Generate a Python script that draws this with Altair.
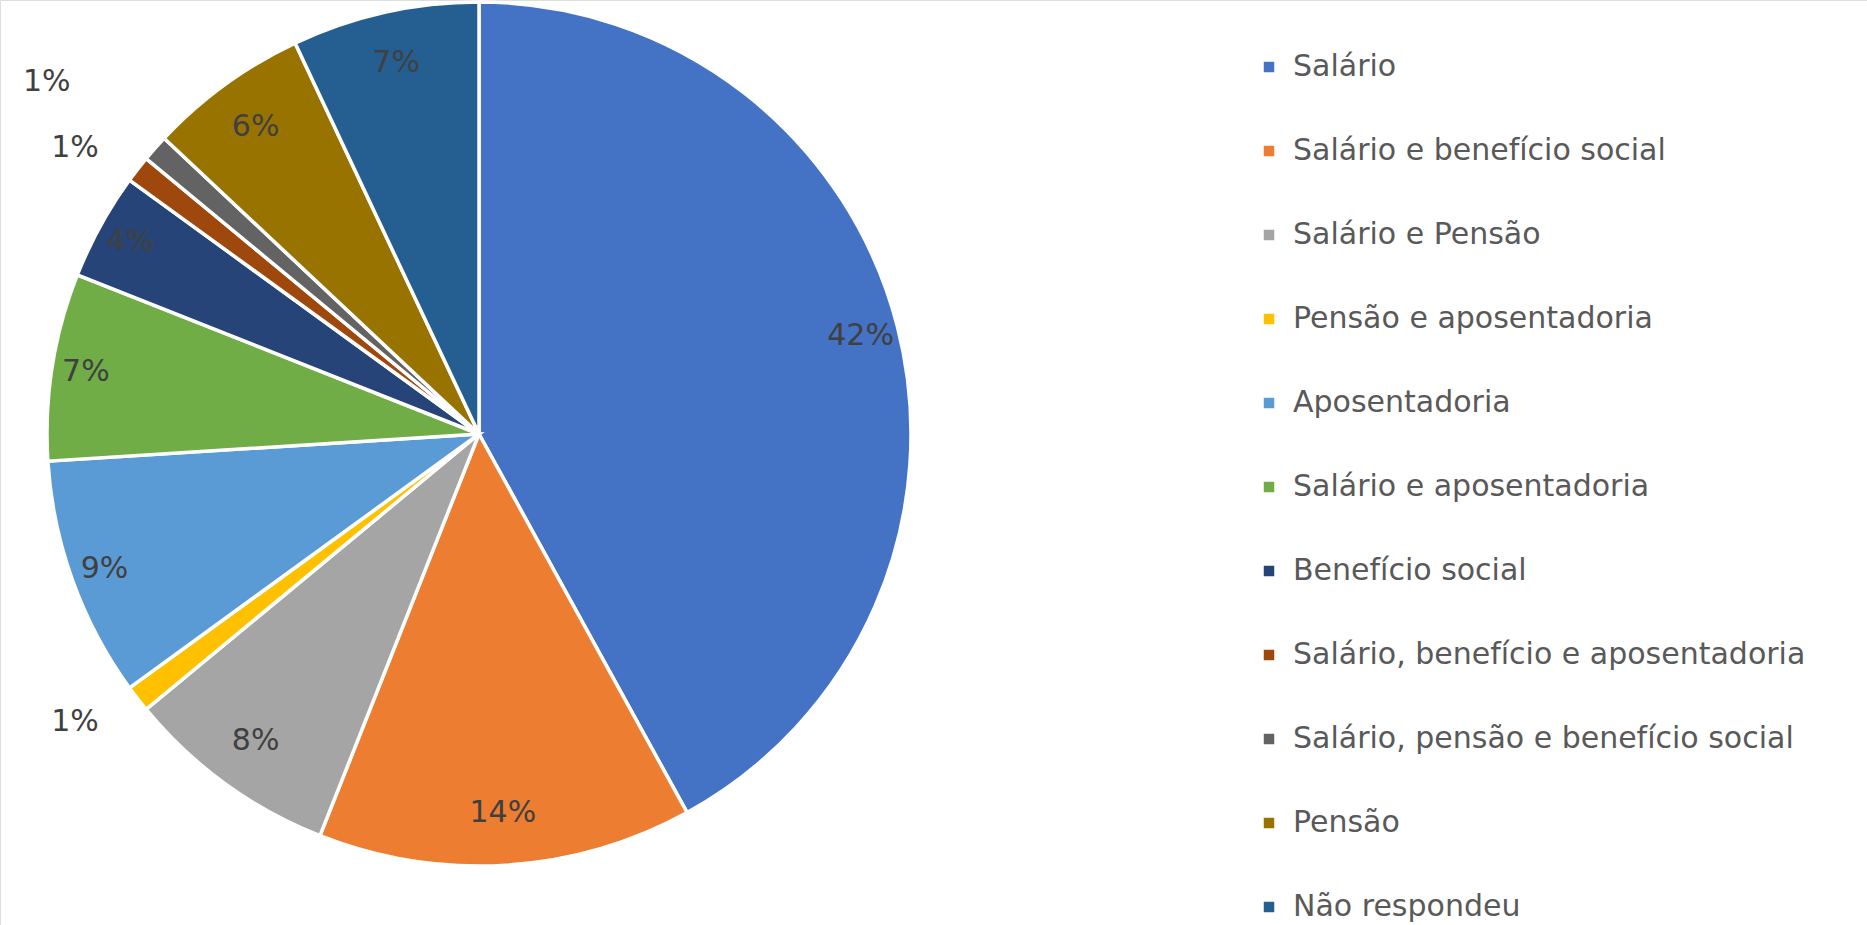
import altair as alt
import pandas as pd

categories = [
    "Salário",
    "Salário e benefício social",
    "Salário e Pensão",
    "Pensão e aposentadoria",
    "Aposentadoria",
    "Salário e aposentadoria",
    "Benefício social",
    "Salário, benefício e aposentadoria",
    "Salário, pensão e benefício social",
    "Pensão",
    "Não respondeu",
]
values = [42, 14, 8, 1, 9, 7, 4, 1, 1, 6, 7]
colors = ["#4472C4", "#ED7D31", "#A5A5A5", "#FFC000", "#5B9BD5", "#70AD47",
          "#264478", "#9E480E", "#636363", "#997300", "#255E91"]
# which label layer each slice's percentage goes to
label_group = ["mid", "near", "near", "out1", "far", "far", "far", "out2", "out3", "near", "near"]

df = pd.DataFrame({
    "cat": categories,
    "value": values,
    "idx": list(range(len(categories))),
    "grp": label_group,
})
df["pct"] = df["value"].astype(str) + "%"

CX, CY, R = 479, 434, 432
FONT = "DejaVu Sans"

base = alt.Chart(df).encode(
    theta=alt.Theta("value:Q", stack=True),
    order=alt.Order("idx:Q", sort="ascending"),
    x=alt.value(CX),
    y=alt.value(CY),
)

pie = base.mark_arc(outerRadius=R, stroke="white", strokeWidth=3.5).encode(
    color=alt.Color(
        "cat:N",
        scale=alt.Scale(domain=categories, range=colors),
        sort=categories,
        legend=alt.Legend(
            title=None,
            orient="none",
            legendX=1254,
            legendY=52,
            symbolType="square",
            symbolSize=110,
            symbolStrokeWidth=0,
            labelFont=FONT,
            labelFontSize=30,
            labelColor="#595959",
            labelLimit=800,
            rowPadding=54,
            labelOffset=9,
        ),
    )
)

txt_style = dict(font=FONT, fontSize=30, color="#404040", align="center", baseline="middle")

# label layers: (group, radius, dx, dy)
label_layers = [
    ("near", 380, 0, 0),
    ("mid", 394, 0, 0),
    ("far", 398, 0, 0),
    ("out1", 496, -12, -16),
    ("out2", 496, -12, 18),
    ("out3", 555, -16, 15),
]

layers = [pie]
for g, rad, ddx, ddy in label_layers:
    layers.append(
        base.transform_calculate(
            lbl=f"datum.grp == '{g}' ? datum.pct : ''"
        ).mark_text(radius=rad, dx=ddx, dy=ddy, **txt_style).encode(text="lbl:N")
    )

chart = alt.layer(*layers).properties(
    width=1867, height=925,
    autosize=alt.AutoSizeParams(type="none"),
    padding=0,
).configure_view(stroke=None).configure(background="white")

chart.save("out.html", embed_options={"renderer": "svg", "actions": False})
